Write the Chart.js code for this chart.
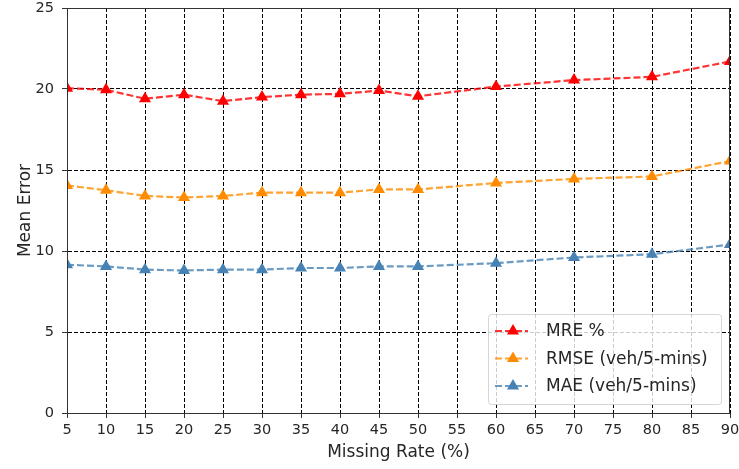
<!DOCTYPE html>
<html>
<head>
<meta charset="utf-8">
<script src="https://cdn.jsdelivr.net/npm/chart.js@4/dist/chart.umd.min.js"></script>
<style>
  html, body { margin: 0; padding: 0; background: #fff; }
  #wrap { width: 739px; height: 469px; }
</style>
</head>
<body>
<div id="wrap"><canvas id="errChart" width="739" height="469"></canvas></div>
<script>
// missing rate (%) and the three error measures
const missingRates = [5, 10, 15, 20, 25, 30, 35, 40, 45, 50, 60, 70, 80, 90];
const mre  = [20.05, 19.95, 19.4, 19.65, 19.25, 19.5, 19.65, 19.7, 19.9, 19.55, 20.15, 20.55, 20.75, 21.7];
const rmse = [14.05, 13.75, 13.4, 13.3, 13.4, 13.6, 13.6, 13.6, 13.8, 13.8, 14.2, 14.45, 14.6, 15.55];
const mae  = [9.15, 9.05, 8.85, 8.8, 8.85, 8.85, 8.95, 8.95, 9.05, 9.05, 9.25, 9.6, 9.8, 10.4];

const seriesNames = ['MRE %', 'RMSE (veh/5-mins)', 'MAE (veh/5-mins)'];
const xTicks = [5, 10, 15, 20, 25, 30, 35, 40, 45, 50, 55, 60, 65, 70, 75, 80, 85, 90];
const yTicks = [0, 5, 10, 15, 20, 25];

const FONT = "'DejaVu Sans', sans-serif";
const TEXT = '#262626';
const DASH = [7, 3];

function makeSet(label, values, solid, faded) {
    return {
        label: label,
        data: values.map((v, i) => ({ x: missingRates[i], y: v })),
        borderColor: faded,
        borderWidth: 2.2,
        borderDash: DASH,
        pointStyle: 'triangle',
        pointRadius: 7,
        pointHoverRadius: 7,
        pointBackgroundColor: solid,
        pointBorderColor: solid,
        pointBorderWidth: 0,
        tension: 0,
        fill: false,
        clip: 0
    };
}

// closed box around the plot area
const frame = {
    id: 'frame',
    afterDraw(chart) {
        const { ctx, chartArea: a } = chart;
        ctx.save();
        ctx.strokeStyle = '#333';
        ctx.lineWidth = 1;
        ctx.strokeRect(Math.round(a.left) + 0.5, Math.round(a.top) + 0.5,
            Math.round(a.right - a.left) - 1, Math.round(a.bottom - a.top));
        ctx.restore();
    }
};

function tri(ctx, x, y, r) {
    ctx.beginPath();
    ctx.moveTo(x, y - r);
    ctx.lineTo(x + r * Math.sin(Math.PI * 2 / 3), y - r * Math.cos(Math.PI * 2 / 3));
    ctx.lineTo(x + r * Math.sin(Math.PI * 4 / 3), y - r * Math.cos(Math.PI * 4 / 3));
    ctx.closePath();
    ctx.fill();
}

// legend box in the lower right corner of the plot
const cornerLegend = {
    id: 'cornerLegend',
    afterDraw(chart) {
        const { ctx, chartArea: a } = chart;
        const w = 233, h = 90;
        const x0 = a.right - 9 - w, y0 = a.bottom - 9 - h;
        ctx.save();
        ctx.fillStyle = 'rgba(255,255,255,0.8)';
        ctx.strokeStyle = 'rgba(204,204,204,0.8)';
        ctx.lineWidth = 1;
        ctx.beginPath();
        ctx.roundRect(x0 + 0.5, y0 + 0.5, w, h, 3);
        ctx.fill();
        ctx.stroke();
        ctx.font = '17px ' + FONT;
        ctx.textBaseline = 'middle';
        chart.data.datasets.forEach((ds, i) => {
            const cy = y0 + 17 + i * 27.5;
            ctx.strokeStyle = ds.borderColor;
            ctx.lineWidth = 2.2;
            ctx.setLineDash(DASH);
            ctx.beginPath();
            ctx.moveTo(x0 + 7, cy);
            ctx.lineTo(x0 + 40, cy);
            ctx.stroke();
            ctx.setLineDash([]);
            ctx.fillStyle = ds.pointBackgroundColor;
            tri(ctx, x0 + 25, cy, 7);
            ctx.fillStyle = TEXT;
            ctx.fillText(ds.label, x0 + 58, cy + 1);
        });
        ctx.restore();
    }
};

new Chart(document.getElementById('errChart'), {
    type: 'line',
    data: {
        datasets: [
            makeSet(seriesNames[0], mre, '#ff0000', 'rgba(255,0,0,0.8)'),
            makeSet(seriesNames[1], rmse, '#ff8c00', 'rgba(255,140,0,0.8)'),
            makeSet(seriesNames[2], mae, '#4682b4', 'rgba(70,130,180,0.8)')
        ]
    },
    options: {
        responsive: false,
        animation: false,
        events: [],
        layout: { padding: 0 },
        plugins: { legend: { display: false }, tooltip: { enabled: false } },
        scales: {
            x: {
                type: 'linear',
                min: 5,
                max: 90,
                afterFit: s => { s.height = 56; s.paddingLeft = 0; s.paddingRight = 9; },
                afterBuildTicks: s => { s.ticks = xTicks.map(v => ({ value: v })); },
                ticks: { color: TEXT, font: { family: FONT, size: 14.5 }, padding: 4, maxRotation: 0, autoSkip: false },
                grid: { color: '#000', lineWidth: 1, tickLength: 5, tickColor: '#333' },
                border: { display: true, color: '#333', width: 1, dash: [4, 2] },
                title: { display: true, text: 'Missing Rate (%)', color: TEXT, font: { family: FONT, size: 17 }, padding: { top: 0, bottom: 6 } }
            },
            y: {
                min: 0,
                max: 25,
                afterFit: s => { s.width = 67; s.paddingTop = 8; s.paddingBottom = 0; },
                afterBuildTicks: s => { s.ticks = yTicks.map(v => ({ value: v })); },
                ticks: { color: TEXT, font: { family: FONT, size: 14.5 }, padding: 8 },
                grid: { color: '#000', lineWidth: 1, tickLength: 5, tickColor: '#333' },
                border: { display: true, color: '#333', width: 1, dash: [4, 2] },
                title: { display: true, text: 'Mean Error', color: TEXT, font: { family: FONT, size: 17 }, padding: { top: 15, bottom: 0 } }
            }
        }
    },
    plugins: [frame, cornerLegend]
});
</script>
</body>
</html>
